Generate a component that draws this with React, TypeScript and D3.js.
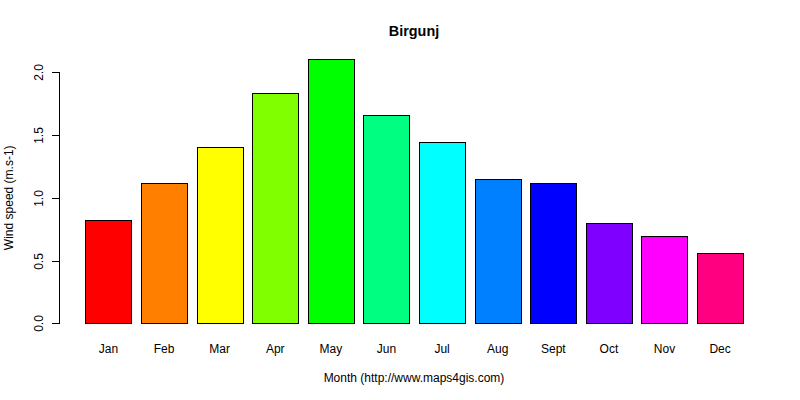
import React, { useEffect, useRef } from 'react';
import * as d3 from 'd3';

const months = ['Jan', 'Feb', 'Mar', 'Apr', 'May', 'Jun', 'Jul', 'Aug', 'Sept', 'Oct', 'Nov', 'Dec'];
const windSpeed = [0.82, 1.12, 1.405, 1.835, 2.105, 1.66, 1.445, 1.15, 1.115, 0.8, 0.695, 0.56];
const barColors = [
  '#FF0000', '#FF8000', '#FFFF00', '#80FF00', '#00FF00', '#00FF80',
  '#00FFFF', '#0080FF', '#0000FF', '#8000FF', '#FF00FF', '#FF0080',
];
const yTicks = [0, 0.5, 1.0, 1.5, 2.0];

const App: React.FC = () => {
  const svgRef = useRef<SVGSVGElement>(null);

  useEffect(() => {
    if (!svgRef.current) return;
    document.body.style.margin = '0';

    const width = 800;
    const height = 400;
    const font = 'Arial, "Liberation Sans", sans-serif';

    const svg = d3.select(svgRef.current);
    svg.selectAll('*').remove();

    svg.append('rect')
      .attr('width', width)
      .attr('height', height)
      .attr('fill', 'white');

    // x scale: R barplot layout (bar width 1, space 0.2)
    const xScale = d3.scaleBand<string>()
      .domain(months)
      .range([85.3, 743.3])
      .paddingInner(1 / 6)
      .paddingOuter(0);

    const yScale = d3.scaleLinear()
      .domain([0, 2])
      .range([323.3, 72.3]);

    // Bars
    svg.append('g')
      .selectAll('rect')
      .data(windSpeed)
      .enter()
      .append('rect')
      .attr('x', (_, i) => Math.round(xScale(months[i]) || 0) + 0.5)
      .attr('y', d => Math.round(yScale(d)) + 0.5)
      .attr('width', Math.round(xScale.bandwidth()))
      .attr('height', d => Math.round(yScale(0)) - Math.round(yScale(d)))
      .attr('fill', (_, i) => barColors[i])
      .attr('stroke', '#000')
      .attr('stroke-width', 1)
      .attr('shape-rendering', 'crispEdges');

    // Y axis
    const axisX = 59.5;
    const yAxis = svg.append('g').attr('shape-rendering', 'crispEdges');
    yAxis.append('line')
      .attr('x1', axisX)
      .attr('x2', axisX)
      .attr('y1', Math.round(yScale(0)) + 0.5)
      .attr('y2', Math.round(yScale(2)) + 0.5)
      .attr('stroke', '#000');

    yTicks.forEach(t => {
      const y = Math.round(yScale(t)) + 0.5;
      yAxis.append('line')
        .attr('x1', axisX - 8)
        .attr('x2', axisX)
        .attr('y1', y)
        .attr('y2', y)
        .attr('stroke', '#000');
      yAxis.append('text')
        .attr('transform', `translate(43, ${y}) rotate(-90)`)
        .attr('text-anchor', 'middle')
        .attr('font-family', font)
        .attr('font-size', '12px')
        .attr('fill', '#000')
        .text(t.toFixed(1));
    });

    // X labels
    svg.append('g')
      .selectAll('text')
      .data(months)
      .enter()
      .append('text')
      .attr('x', d => (xScale(d) || 0) + xScale.bandwidth() / 2)
      .attr('y', 353)
      .attr('text-anchor', 'middle')
      .attr('font-family', font)
      .attr('font-size', '12px')
      .attr('fill', '#000')
      .text(d => d);

    // Axis titles
    svg.append('text')
      .attr('x', 414)
      .attr('y', 382)
      .attr('text-anchor', 'middle')
      .attr('font-family', font)
      .attr('font-size', '12px')
      .attr('fill', '#000')
      .text('Month (http://www.maps4gis.com)');

    svg.append('text')
      .attr('transform', `translate(13, ${(yScale(0) + yScale(2)) / 2}) rotate(-90)`)
      .attr('text-anchor', 'middle')
      .attr('font-family', font)
      .attr('font-size', '12px')
      .attr('fill', '#000')
      .text('Wind speed (m.s-1)');

    // Title
    svg.append('text')
      .attr('x', 414)
      .attr('y', 36)
      .attr('text-anchor', 'middle')
      .attr('font-family', font)
      .attr('font-size', '14.4px')
      .attr('font-weight', 'bold')
      .attr('fill', '#000')
      .text('Birgunj');
  }, []);

  return (
    <div style={{ width: 800, height: 400 }}>
      <svg ref={svgRef} width={800} height={400} style={{ display: 'block' }} />
    </div>
  );
};

export default App;
